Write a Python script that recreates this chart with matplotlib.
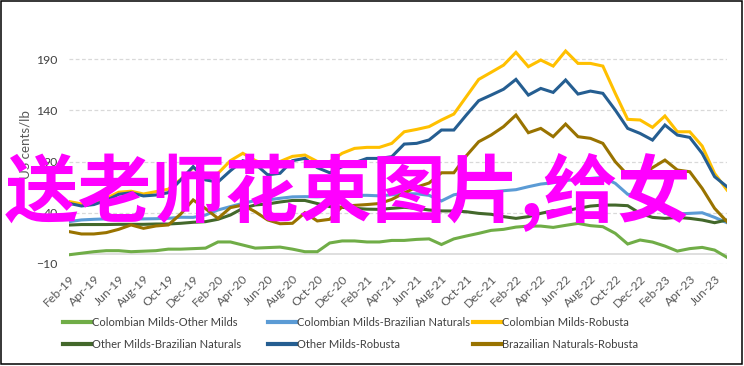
import matplotlib
matplotlib.use("Agg")
import matplotlib.pyplot as plt
from matplotlib.patches import Rectangle
import pandas as pd

# ---------------- data ----------------
months = pd.date_range("2019-02-01", periods=54, freq="MS").strftime("%b-%y").tolist()

cm_om = [-1, 0.5, 2, 3, 3, 2, 2.5, 3, 4.5, 4.5, 5, 5.5, 11.5, 11.5, 8.5, 5.5, 6, 6.5,
         4.5, 2, 2, 10.5, 12.5, 12.5, 11.5, 11.5, 13, 13, 14, 14.5, 9, 14.5, 17.3, 19.9,
         22.8, 23.8, 26, 27, 27, 25.7, 27.7, 29.6, 27.4, 26.4, 19.9, 9.5, 13.4, 11.4,
         7.5, 2.6, 5, 6.2, 3.6, -3.5]
cm_bn = [31.3, 33, 33.6, 34, 34, 34, 34, 34.2, 34.6, 35.6, 35.5, 37.8, 42.7, 46, 49.2,
         51.8, 52.5, 54.1, 55.5, 55.7, 55.5, 56, 56.5, 57, 57, 56.5, 57.5, 58.5, 58.5, 57,
         51.5, 57.5, 59.6, 60.5, 60.5, 61.5, 62.5, 65.4, 68, 69.3, 71.5, 72.5, 73.5, 74.5,
         68.7, 58, 57, 50, 39.4, 38.8, 39.4, 40, 35.5, 30.3]
cm_r = [51, 48.6, 50, 54, 60, 61, 58.3, 60.6, 63, 72.6, 84, 77.8, 78.4, 90.8, 98, 91, 86,
        90, 95, 96.3, 90, 89.8, 98, 102.8, 103.8, 103.8, 107.7, 119, 121.3, 124, 130.5,
        136.3, 153.2, 170.1, 177, 184, 196.5, 182.5, 189, 183.1, 197.8, 185.7, 185.7,
        183.1, 156.5, 131.1, 130.5, 123.3, 134.4, 119, 119, 105.1, 78.4, 62.2]
om_bn = [28, 28.5, 28.5, 28.5, 28.7, 28.7, 28.7, 29, 29, 29.7, 30.7, 31.3, 33.6, 37.8,
         44.3, 47.6, 48.6, 50.5, 52, 52, 49, 46, 45.3, 44.3, 43.5, 43.3, 44.3, 45.3, 44.3,
         42.7, 41.8, 41.7, 41, 39.4, 38.5, 36.2, 34.5, 36.2, 39.4, 42, 42, 44.3, 46.5,
         47.5, 47.5, 46.9, 39.4, 35.5, 34.5, 35.5, 34.5, 32.9, 30.3, 32.9]
om_r = [49.2, 46.6, 48, 52, 58, 59.5, 56.4, 57.3, 59.6, 72, 85, 72, 70, 81, 90.8, 87.6,
        77, 78.5, 90.8, 93.1, 84, 79, 84.9, 88.8, 93, 93, 94.7, 107, 107.7, 111, 120.7,
        120.7, 135.3, 149.3, 154.8, 160.5, 170.1, 154.8, 161.3, 157.4, 169.5, 155.8,
        158.7, 156.5, 140.2, 122.3, 117.4, 110.9, 125.6, 115.8, 113.5, 97.9, 75.2, 65.4]
bn_r = [21.6, 19.3, 19.3, 20.6, 23.8, 28.1, 24.8, 27.1, 28.1, 38.8, 52.5, 44, 34.5, 45,
        47.5, 41, 33, 29.3, 29.7, 40, 32, 33.6, 45.9, 47.2, 48, 49, 53, 59.3, 65, 69, 79,
        79, 95.5, 109.3, 115.8, 124, 135.3, 118.1, 122.3, 114.2, 126.5, 114.2, 112.6,
        107.7, 89.8, 76.8, 75.2, 84, 91.4, 81.7, 80, 63.8, 44.3, 31.3]

series_names = ["Colombian Milds-Other Milds", "Colombian Milds-Brazilian Naturals",
                "Colombian Milds-Robusta", "Other Milds-Brazilian Naturals",
                "Other Milds-Robusta", "Brazailian Naturals-Robusta"]
series_values = [cm_om, cm_bn, cm_r, om_bn, om_r, bn_r]
series_colors = ["#70AD47", "#5B9BD5", "#FFC000", "#43682B", "#255E91", "#997300"]

y_ticks = [-10, 40, 90, 140, 190]
x_tick_idx = list(range(0, 54, 2))
x_tick_labels = [months[i] for i in x_tick_idx]
y_label = "US cents/lb"
overlay_text = "送老师花束图片,给女"

# ---------------- figure ----------------
W, H = 744, 366
fig = plt.figure(figsize=(W / 100, H / 100), dpi=100)
FONT = ["Lato", "DejaVu Sans"]
TXT = "#595959"

L, R, T, B = 69, 727, 38.5, 264
ax = fig.add_axes([L / W, 1 - B / H, (R - L) / W, (B - T) / H])
ax.set_xlim(0, 53)
ax.set_ylim(-10, 210)
for s in ax.spines.values():
    s.set_visible(False)

ax.set_yticks(y_ticks)
ax.yaxis.grid(True, linestyle=(0, (3, 2)), color="#D9D9D9", linewidth=0.9)
ax.axhline(0, color="#D9D9D9", linewidth=1.2, zorder=1)
ax.set_axisbelow(True)

x = list(range(len(months)))
handles = []
for name, vals, col in zip(series_names, series_values, series_colors):
    h, = ax.plot(x, vals, color=col, linewidth=2.2, label=name, zorder=3,
                 solid_joinstyle="miter")
    handles.append(h)

ax.set_xticks(x_tick_idx)
ax.set_xticklabels(x_tick_labels, fontsize=8.8, color=TXT, family=FONT)
for lab in ax.get_xticklabels():
    lab.set_rotation(45)
    lab.set_ha("right")
    lab.set_rotation_mode("anchor")
ax.tick_params(axis="x", length=0, pad=6.5)
ax.tick_params(axis="y", length=0, pad=8, labelsize=8.8, labelcolor="#404040")
for lab in ax.get_yticklabels():
    lab.set_family(FONT)

fig.text(25 / W, 1 - 145 / H, y_label, rotation=90, ha="center", va="center",
         fontsize=9.6, color=TXT, family=FONT)

# legends: three columns at fixed positions
col_x = [63, 268, 473]
order = [[0, 3], [1, 4], [2, 5]]
for cx, idxs in zip(col_x, order):
    lg = fig.legend([handles[i] for i in idxs], [series_names[i] for i in idxs],
                    loc="upper left", bbox_to_anchor=(cx / W, 1 - 317 / H),
                    frameon=False, handlelength=2.5, handletextpad=0.15,
                    borderaxespad=0, borderpad=0, labelspacing=1.0,
                    prop={"family": FONT, "size": 8})
    for t in lg.get_texts():
        t.set_color("#404040")
    for ln in lg.get_lines():
        ln.set_linewidth(3)

# overlay watermark text
fig.text(5 / W, 1 - 192 / H, overlay_text, ha="left", va="center",
         fontsize=53, color="#FF00FF", fontweight="bold",
         family=["Noto Sans CJK SC", "DejaVu Sans"], zorder=10)

# outer border
fig.patches.append(Rectangle((0.75 / W, 2 / H), 741.5 / W, 363.25 / H,
                             transform=fig.transFigure, fill=False,
                             edgecolor="black", linewidth=1.1, zorder=20))

fig.savefig("out.png", dpi=100, facecolor="white")
